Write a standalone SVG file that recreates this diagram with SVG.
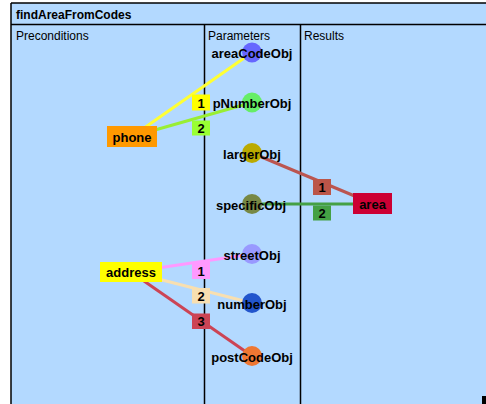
<svg xmlns="http://www.w3.org/2000/svg" width="486" height="404" viewBox="0 0 486 404">
<style>
text{font-family:"Liberation Sans",Arial,sans-serif;fill:#000}
.title{font-size:12px;font-weight:bold}
.hdr{font-size:12px}
.nl{font-size:13px;font-weight:bold;text-anchor:middle}
.frame{stroke:#000;stroke-width:1.5;fill:none}
.conn line{stroke-width:3}
.lb text{font-size:13px;font-weight:bold;text-anchor:middle}
</style>
<rect x="0" y="0" width="486" height="404" fill="#fff"/>
<rect x="11" y="3" width="480" height="410" fill="#b3d9ff"/>
<g id="frame">
<line class="frame" x1="11" y1="3" x2="486" y2="3"/>
<line class="frame" x1="11" y1="3" x2="11" y2="404"/>
<line class="frame" x1="11" y1="24.5" x2="486" y2="24.5"/>
<line class="frame" x1="204.5" y1="24.5" x2="204.5" y2="404"/>
<line class="frame" x1="300.5" y1="24.5" x2="300.5" y2="404"/>
<text class="title" x="16" y="19">findAreaFromCodes</text>
<text class="hdr" x="16" y="40">Preconditions</text>
<text class="hdr" x="208" y="40">Parameters</text>
<text class="hdr" x="304" y="40">Results</text>
</g>
<g id="connectors" class="conn">
<line x1="132" y1="136.5" x2="252" y2="52.5" stroke="#ffff33"/>
<line x1="132" y1="136.5" x2="252" y2="102.5" stroke="#99ee33"/>
<line x1="252" y1="153" x2="372.5" y2="203.5" stroke="#bb5550"/>
<line x1="252" y1="204" x2="372.5" y2="204" stroke="#44a044"/>
<line x1="131" y1="272" x2="252" y2="254" stroke="#ff99ff"/>
<line x1="131" y1="272" x2="252" y2="303" stroke="#f8dfb0"/>
<line x1="131" y1="272" x2="252" y2="356" stroke="#cc4455"/>
</g>
<g id="labels" class="lb">
<g id="lbl-phone-1"><rect x="192" y="94.5" width="18" height="16" fill="#ffff00"/><text x="201" y="107.5">1</text></g>
<g id="lbl-phone-2"><rect x="192" y="120.5" width="18" height="15" fill="#99ff33"/><text x="201" y="133">2</text></g>
<g id="lbl-area-1"><rect x="313" y="179" width="18" height="16" fill="#bb5548"/><text x="322" y="192">1</text></g>
<g id="lbl-area-2"><rect x="313" y="205.5" width="18" height="15" fill="#44a044"/><text x="322" y="218">2</text></g>
<g id="lbl-addr-1"><rect x="192" y="262" width="18" height="17" fill="#ff99ff"/><text x="201" y="275.5">1</text></g>
<g id="lbl-addr-2"><rect x="192" y="288" width="18" height="15.5" fill="#f8dfb0"/><text x="201" y="300.5">2</text></g>
<g id="lbl-addr-3"><rect x="192" y="313.5" width="18" height="15.5" fill="#cc4455"/><text x="201" y="326">3</text></g>
</g>
<g id="areaCodeObj"><circle cx="252" cy="52.5" r="10" fill="#6666ff"/><text class="nl" x="252" y="58">areaCodeObj</text></g>
<g id="pNumberObj"><circle cx="252" cy="102.5" r="10" fill="#66ee66"/><text class="nl" x="252" y="108">pNumberObj</text></g>
<g id="largerObj"><circle cx="252" cy="153" r="10" fill="#bbaa00"/><text class="nl" x="252" y="158.5">largerObj</text></g>
<g id="specificObj"><circle cx="252" cy="204" r="10" fill="#778844"/><text class="nl" x="251" y="209.5">specificObj</text></g>
<g id="streetObj"><circle cx="252" cy="254" r="10" fill="#9999ff"/><text class="nl" x="252" y="259.5">streetObj</text></g>
<g id="numberObj"><circle cx="252" cy="303" r="10" fill="#2255cc"/><text class="nl" x="252" y="308.5">numberObj</text></g>
<g id="postCodeObj"><circle cx="252" cy="356" r="10" fill="#ee7733"/><text class="nl" x="252" y="361.5">postCodeObj</text></g>
<g id="phone"><rect x="107" y="126" width="50" height="21" fill="#ff9900"/><text class="nl" x="132" y="141.5">phone</text></g>
<g id="address"><rect x="100" y="262" width="62" height="20" fill="#ffff00"/><text class="nl" x="131" y="277">address</text></g>
<g id="area"><rect x="353" y="193" width="39" height="21" fill="#cc0033"/><text class="nl" x="372.5" y="208.5">area</text></g>
<rect x="482" y="396" width="4" height="8" fill="#000"/>
</svg>
